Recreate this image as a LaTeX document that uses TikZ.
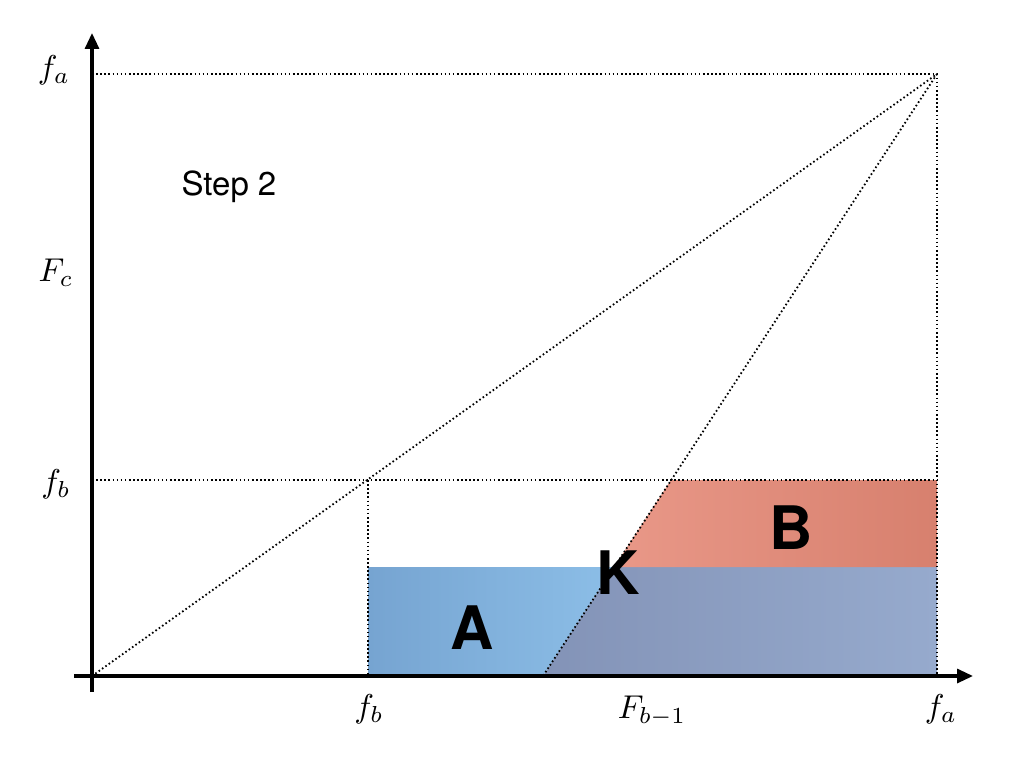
\documentclass[tikz,border=0pt]{standalone}
\usepackage{fontspec}
\setsansfont{TeX Gyre Heros}
\usetikzlibrary{arrows.meta}
\definecolor{blueL}{HTML}{76A4D1}
\definecolor{blueR}{HTML}{8CBEE7}
\definecolor{mixL}{HTML}{8393B7}
\definecolor{mixR}{HTML}{96AACD}
\definecolor{redL}{HTML}{E99888}
\definecolor{redR}{HTML}{D7806E}
\begin{document}
\begin{tikzpicture}[x=1pt,y=-1pt,
  axis/.style={line width=3.2pt,-{Triangle[length=16pt,width=14pt]}},
  dotline/.style={line width=1.8pt,dash pattern=on 1.6pt off 2.5pt},
  mathlbl/.style={scale=3.3,inner sep=0pt},
  biglbl/.style={font=\sffamily\bfseries,scale=6,inner sep=0pt},
  steplbl/.style={font=\sffamily,scale=3.3,inner sep=0pt}]
\useasboundingbox (0,0) rectangle (1024,768);
% key points
\coordinate (O) at (92,676);
\coordinate (Ytop) at (92,33);
\coordinate (Ybot) at (92,692);
\coordinate (Xleft) at (74,676);
\coordinate (Xright) at (973,676);
\coordinate (FaY) at (92,74);
\coordinate (P) at (937,74);
\coordinate (FaX) at (937,676);
\coordinate (FbY) at (92,480);
\coordinate (FbR) at (937,480);
\coordinate (Q) at (368,480);
\coordinate (FbX) at (368,676);
\coordinate (Fb1) at (543,676);
\coordinate (Btl) at (671,480);
\coordinate (K) at (614,567);
\coordinate (Atl) at (368,567);
\coordinate (Amr) at (937,567);
% regions
\shade[left color=blueL,right color=blueR] (Atl) -- (K) -- (Fb1) -- (FbX) -- cycle;
\shade[left color=mixL,right color=mixR] (K) -- (Amr) -- (FaX) -- (Fb1) -- cycle;
\shade[left color=redL,right color=redR] (Btl) -- (FbR) -- (Amr) -- (K) -- cycle;
% dotted guides
\draw[dotline] (FaY) -- (P) -- (FaX);
\draw[dotline] (FbY) -- (FbR);
\draw[dotline] (Q) -- (FbX);
\draw[dotline] (O) -- (P);
\draw[dotline] (P) -- (Fb1);
% axes
\draw[axis] (Ybot) -- (Ytop);
\draw[axis] (Xleft) -- (Xright);
% labels
\node[mathlbl] (lfa) at (54,70) {$f_a$};
\node[mathlbl] (lfc) at (56,273) {$F_c$};
\node[mathlbl] (lfb) at (56,484) {$f_b$};
\node[mathlbl] (xfb) at (369,709) {$f_b$};
\node[mathlbl] (xfb1) at (652,711) {$F_{b-1}$};
\node[mathlbl] (xfa) at (941,709) {$f_a$};
\node[steplbl] (step) at (229,187) {Step 2};
\node[biglbl] (A) at (472,628) {A};
\node[biglbl] (B) at (791,528) {B};
\node[biglbl] (Kl) at (618,573) {K};
\end{tikzpicture}
\end{document}
